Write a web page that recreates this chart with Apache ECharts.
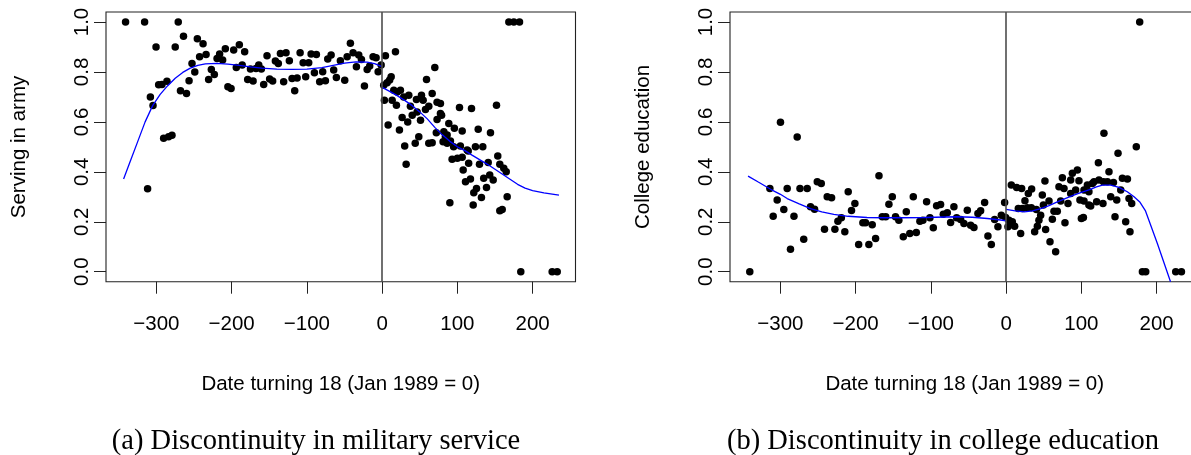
<!DOCTYPE html>
<html>
<head>
<meta charset="utf-8">
<title>Discontinuity plots</title>
<script src="https://cdn.jsdelivr.net/npm/echarts@6/dist/echarts.min.js"></script>
<style>
  html, body { margin: 0; padding: 0; background: #fff; }
  #chart { width: 1191px; height: 455px; }
</style>
</head>
<body>
<div id="chart"></div>
<script>
// Months relative to January 1989 (x) and share of the cohort (y)
const armyPoints = [
  [-341,1.0],[-315.7,1.0],[-311.7,0.332],[-308,0.70],[-304.5,0.666],[-300.5,0.90],[-297,0.749],[-292.6,0.75],
  [-290.4,0.534],[-286,0.763],[-283.8,0.54],[-279.3,0.546],[-275,0.90],[-271,1.0],[-268,0.725],[-264,0.943],
  [-260,0.714],[-256.6,0.765],[-252.7,0.834],[-249,0.80],[-245.6,0.933],[-242.6,0.861],[-238,0.913],[-234,0.87],
  [-230.6,0.77],[-227,0.81],[-223,0.79],[-219.4,0.854],[-216,0.872],[-212,0.848],[-208.4,0.893],[-205,0.741],
  [-200.8,0.734],[-197.3,0.888],[-193.8,0.818],[-189.8,0.909],[-186,0.828],[-182.7,0.881],[-178.7,0.77],[-175,0.812],
  [-171.5,0.764],[-167.6,0.814],[-164,0.828],[-160.5,0.812],[-157.4,0.75],[-153,0.865],[-149.5,0.772],[-145.5,0.764],
  [-141.9,0.844],[-138,0.834],[-135.2,0.874],[-130.9,0.761],[-127.7,0.877],[-123.3,0.845],[-119.7,0.774],[-116.2,0.725],
  [-113,0.776],[-109,0.877],[-105,0.837],[-101.6,0.781],[-97.6,0.837],[-94.4,0.872],[-90,0.797],[-87.4,0.87],
  [-83,0.761],[-79,0.801],[-75.4,0.765],[-72.3,0.852],[-67.8,0.868],[-64.4,0.808],[-60.8,0.778],[-55.5,0.845],
  [-49.7,0.767],[-46.5,0.861],[-42.2,0.915],[-38.6,0.877],[-34.2,0.821],[-31.1,0.868],[-27.5,0.85],[-23.5,0.744],
  [-19.9,0.81],[-16.5,0.824],[-12,0.861],[-8,0.857],[-5.3,0.801],[-1.3,0.828],
  [2.1,0.747],[3,0.687],[4.4,0.865],[6.6,0.757],[8,0.587],[10,0.768],[12,0.781],[13.3,0.687],[15.5,0.727],
  [17.7,0.881],[19,0.667],[20,0.72],[23,0.567],[24.3,0.727],[26.6,0.618],[28.7,0.70],[30,0.503],[31.9,0.43],
  [34,0.60],[35.4,0.707],[37.6,0.663],[40,0.627],[44,0.514],[45.6,0.69],[46.5,0.64],[48.7,0.54],[51,0.607],
  [52.3,0.707],[54.5,0.687],[57.6,0.65],[59,0.77],[62,0.663],[62,0.514],[66.5,0.714],[66.5,0.516],[70,0.818],
  [72,0.556],[73,0.679],[73,0.61],[77.5,0.634],[77.5,0.674],[79,0.627],[81,0.52],[82,0.56],[84,0.54],
  [86.4,0.547],[86.4,0.514],[88.6,0.594],[90,0.276],[90.8,0.523],[93,0.45],[95,0.50],[96,0.574],[100,0.454],
  [102.8,0.658],[104,0.503],[106.4,0.563],[106.4,0.458],[107.7,0.407],[110.8,0.36],[113,0.487],[114.4,0.483],
  [115,0.434],[117.4,0.371],[118.8,0.654],[121,0.267],[121.8,0.316],[124,0.50],[125.4,0.333],[127.7,0.57],
  [129.4,0.43],[132,0.297],[133.8,0.50],[135,0.374],[138.7,0.337],[141,0.437],[143,0.387],[144,0.556],
  [147.6,0.367],[152,0.667],[153.7,0.463],[156.4,0.43],[156.4,0.244],[159.6,0.249],[161.7,0.414],[164.9,0.40],
  [166.2,0.30],[168.4,1.0],[175,1.0],[182.6,1.0],[184.3,0.0],[226,0.0],[232.7,0.0]
];

// Local fit of army service on each side of the cutoff
const armyFitLeft = [
  [-343.6,0.371],[-335,0.44],[-325,0.52],[-315,0.60],[-305,0.665],[-295,0.71],[-285,0.745],[-275,0.775],
  [-265,0.798],[-255,0.815],[-245,0.826],[-235,0.832],[-220,0.834],[-205,0.831],[-190,0.826],[-175,0.82],
  [-160,0.815],[-140,0.811],[-120,0.81],[-100,0.811],[-80,0.817],[-65,0.826],[-50,0.835],[-35,0.84],
  [-20,0.839],[-10,0.833],[-1,0.822]
];
const armyFitRight = [
  [0,0.738],[10,0.722],[20,0.705],[30,0.686],[40,0.665],[50,0.64],[60,0.612],[70,0.578],[80,0.548],
  [90,0.522],[100,0.50],[110,0.485],[120,0.466],[130,0.448],[140,0.43],[150,0.41],[160,0.39],[170,0.37],
  [180,0.35],[190,0.335],[200,0.325],[215,0.316],[235,0.307]
];

const collegePoints = [
  [-340.7,0.0],[-314,0.333],[-309.6,0.222],[-304.3,0.287],[-299.9,0.599],[-295.5,0.249],[-291,0.333],[-286.6,0.09],
  [-282,0.222],[-277.7,0.539],[-274,0.333],[-269,0.13],[-264.4,0.333],[-260,0.26],[-254.6,0.25],[-251,0.36],
  [-245.7,0.353],[-241.4,0.17],[-237.8,0.30],[-232,0.296],[-227.6,0.17],[-223.6,0.202],[-219,0.216],[-214.4,0.16],
  [-209.9,0.32],[-205.5,0.245],[-201,0.273],[-196,0.109],[-190.4,0.196],[-186.8,0.196],[-182.4,0.109],[-178,0.188],
  [-173.5,0.133],[-169,0.384],[-164.6,0.22],[-160,0.22],[-155.8,0.27],[-151.3,0.30],[-147,0.22],[-142.6,0.206],
  [-136.7,0.14],[-132.7,0.24],[-128,0.153],[-123.4,0.30],[-119.4,0.157],[-114.6,0.202],[-110.6,0.206],[-105.7,0.28],
  [-101.3,0.216],[-96.8,0.176],[-92.4,0.264],[-87.1,0.269],[-83.5,0.23],[-78.2,0.236],[-73.8,0.197],[-69.4,0.26],
  [-65.8,0.216],[-60.5,0.209],[-56.1,0.193],[-51.6,0.246],[-47.2,0.186],[-42.8,0.177],[-37.5,0.233],[-33.9,0.244],
  [-28.6,0.277],[-24.2,0.143],[-19.7,0.109],[-15.3,0.209],[-10.9,0.18],[-6.4,0.226],[-2,0.277],[-0.7,0.217],
  [2.4,0.18],[3.7,0.206],[6.9,0.347],[8.2,0.2],[11.3,0.182],[14,0.337],[16.2,0.253],[19.3,0.153],[20.6,0.333],
  [21.5,0.253],[25,0.284],[28.2,0.256],[29.5,0.313],[33.5,0.256],[33.9,0.331],[37.9,0.16],[40.2,0.249],[41.5,0.182],
  [43.6,0.206],[45.9,0.226],[48.1,0.307],[49.5,0.267],[51.6,0.363],[52.5,0.169],[57,0.283],[58.3,0.12],[61.4,0.21],
  [63.6,0.242],[65.8,0.08],[68,0.242],[70.2,0.34],[72.5,0.283],[74.7,0.376],[76.9,0.333],[78.2,0.196],[82.2,0.273],
  [85.8,0.367],[85.8,0.313],[88,0.394],[92.4,0.327],[94.7,0.407],[96.8,0.364],[98.1,0.287],[100,0.213],[102.7,0.217],
  [103.5,0.283],[103.5,0.327],[108,0.347],[110,0.267],[110,0.32],[112.4,0.263],[114.6,0.353],[116.8,0.36],[120.3,0.28],
  [122.6,0.436],[123.4,0.367],[128.7,0.273],[129.3,0.36],[130,0.554],[134.6,0.36],[136.7,0.40],[139,0.30],[142.6,0.357],
  [144.7,0.22],[147,0.287],[148.7,0.474],[152.3,0.327],[154.5,0.374],[158.9,0.20],[161.2,0.371],[163.3,0.293],
  [164.6,0.16],[166.9,0.273],[173,0.50],[177.5,1.0],[181.1,0.0],[185.5,0.0],[225.4,0.0],[233,0.0]
];

const collegeFitLeft = [
  [-343,0.383],[-330,0.36],[-313,0.33],[-300,0.31],[-291,0.293],[-275,0.272],[-260,0.253],[-245,0.24],
  [-229,0.23],[-210,0.222],[-185,0.217],[-160,0.216],[-140,0.216],[-109,0.217],[-80,0.219],[-65,0.22],
  [-45,0.218],[-25,0.213],[-10,0.208],[0,0.204]
];
const collegeFitRight = [
  [0,0.25],[12,0.244],[24,0.24],[35,0.244],[46,0.253],[57,0.265],[68,0.28],[80,0.295],[90,0.307],[100,0.318],
  [112,0.33],[120,0.34],[128,0.347],[139,0.347],[150,0.338],[161,0.32],[170,0.3],[178,0.278],[185,0.245],
  [201,0.113],[218.5,-0.04]
];

const monthTicks = [-300, -200, -100, 0, 100, 200];
const shareTicks = [0, 0.2, 0.4, 0.6, 0.8, 1.0];
const monthRange = [-367, 257];
const shareRange = [-0.04, 1.04];

const sans = 'Liberation Sans';
const serif = 'Liberation Serif';
const ink = '#000';
const frame = '#222';

function fmtMonth(v) {
  return v < 0 ? '\u2212' + Math.abs(v) : String(v);
}

function xAxisFor(idx) {
  return {
    gridIndex: idx, type: 'value', position: 'bottom', min: monthRange[0], max: monthRange[1],
    axisLine: { show: false, onZero: false }, splitLine: { show: false },
    axisTick: { show: true, length: 12, inside: false, customValues: monthTicks,
      lineStyle: { color: frame, width: 1 } },
    axisLabel: { customValues: monthTicks, formatter: fmtMonth, margin: 32,
      fontSize: 20.5, fontFamily: sans, color: ink }
  };
}
function yAxisFor(idx) {
  return {
    gridIndex: idx, type: 'value', position: 'left', min: shareRange[0], max: shareRange[1],
    axisLine: { show: false, onZero: false }, splitLine: { show: false },
    axisTick: { show: true, length: 12, inside: false, customValues: shareTicks,
      lineStyle: { color: frame, width: 1 } },
    axisLabel: { customValues: shareTicks, formatter: v => v.toFixed(1), rotate: 90, margin: 13,
      fontSize: 20.5, fontFamily: sans, color: ink }
  };
}
function panelSeries(idx, points, fitL, fitR) {
  const fitStyle = { color: '#0000ff', width: 1.3 };
  return [
    { type: 'scatter', xAxisIndex: idx, yAxisIndex: idx, data: points, symbol: 'circle',
      symbolSize: 7.5, itemStyle: { color: ink, opacity: 1 }, z: 3,
      markLine: { silent: true, symbol: 'none', animation: false,
        label: { show: false },
        lineStyle: { color: '#4d4d4d', width: 1.6, type: 'solid', opacity: 1 },
        data: [{ xAxis: 0 }] } },
    { type: 'line', xAxisIndex: idx, yAxisIndex: idx, data: fitL, showSymbol: false,
      clip: true, lineStyle: fitStyle, z: 4 },
    { type: 'line', xAxisIndex: idx, yAxisIndex: idx, data: fitR, showSymbol: false,
      clip: true, lineStyle: fitStyle, z: 4 }
  ];
}

const chart = echarts.init(document.getElementById('chart'), null, { renderer: 'canvas' });
chart.setOption({
  animation: false,
  backgroundColor: '#fff',
  grid: [
    { left: 106, top: 12, width: 469.5, height: 269.7, show: true, borderColor: frame, borderWidth: 1.1,
      backgroundColor: 'transparent', containLabel: false, outerBoundsMode: 'none' },
    { left: 730, top: 12, width: 469.5, height: 269.7, show: true, borderColor: frame, borderWidth: 1.1,
      backgroundColor: 'transparent', containLabel: false, outerBoundsMode: 'none' }
  ],
  xAxis: [xAxisFor(0), xAxisFor(1)],
  yAxis: [yAxisFor(0), yAxisFor(1)],
  series: [
    ...panelSeries(0, armyPoints, armyFitLeft, armyFitRight),
    ...panelSeries(1, collegePoints, collegeFitLeft, collegeFitRight)
  ],
  graphic: [
    { type: 'text', x: 19, y: 147, rotation: Math.PI / 2,
      style: { text: 'Serving in army', font: '20.5px ' + sans, fill: ink, align: 'center', verticalAlign: 'middle' } },
    { type: 'text', x: 643, y: 147, rotation: Math.PI / 2,
      style: { text: 'College education', font: '20.5px ' + sans, fill: ink, align: 'center', verticalAlign: 'middle' } },
    { type: 'text', x: 340.7, y: 384,
      style: { text: 'Date turning 18 (Jan 1989 = 0)', font: '20.5px ' + sans, fill: ink, align: 'center', verticalAlign: 'middle' } },
    { type: 'text', x: 964.7, y: 384,
      style: { text: 'Date turning 18 (Jan 1989 = 0)', font: '20.5px ' + sans, fill: ink, align: 'center', verticalAlign: 'middle' } },
    { type: 'text', x: 316, y: 442,
      style: { text: '(a) Discontinuity in military service', font: '28.5px ' + serif, fill: ink, align: 'center', verticalAlign: 'middle' } },
    { type: 'text', x: 943, y: 442,
      style: { text: '(b) Discontinuity in college education', font: '28.5px ' + serif, fill: ink, align: 'center', verticalAlign: 'middle' } }
  ]
});
</script>
</body>
</html>
